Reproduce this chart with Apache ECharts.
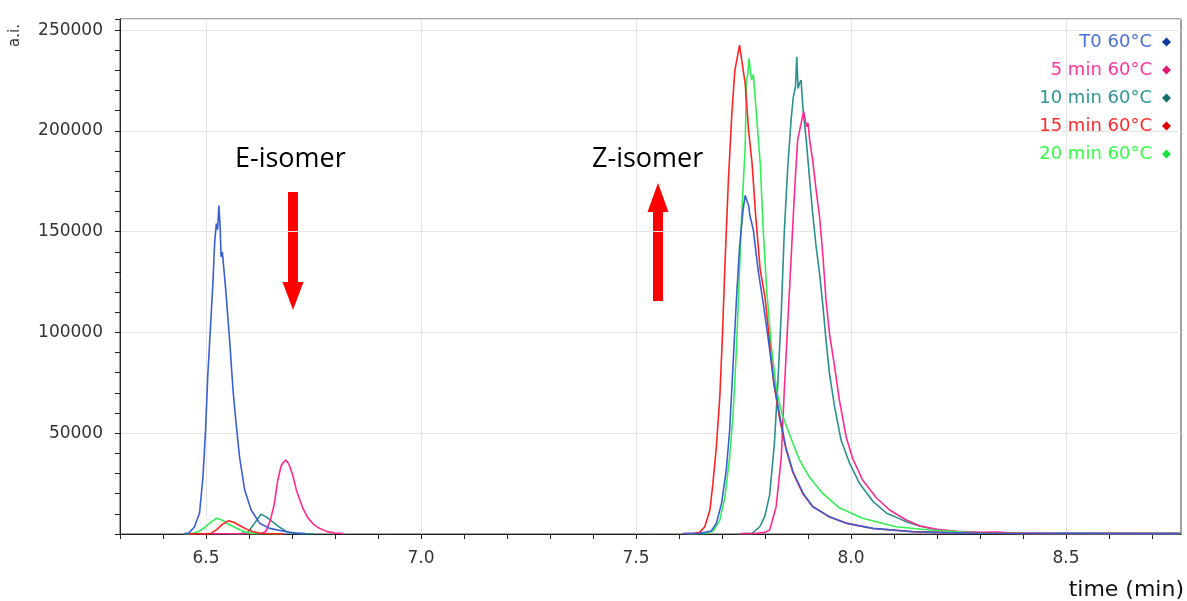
<!DOCTYPE html>
<html><head><meta charset="utf-8">
<script src="https://cdn.jsdelivr.net/npm/echarts@6/dist/echarts.min.js"></script>
<style>html,body{margin:0;padding:0;background:#fff}#c{width:1187px;height:601px}</style>
</head><body><div id="c"></div>
<script>
// ---- data (time in min, intensity in a.i.) ----
const seriesNames = ['T0 60°C', '5 min 60°C', '10 min 60°C', '15 min 60°C', '20 min 60°C'];

const t0E = [[6.45,300],[6.46,500],[6.473,3500],[6.485,10400],[6.493,28400],[6.499,51600],[6.504,78000],[6.51,101000],[6.516,124000],[6.52,144000],[6.524,154000],[6.527,151000],[6.53,163000],[6.533,152000],[6.535,137500],[6.538,140000],[6.546,121000],[6.555,96000],[6.563,71000],[6.57,55000],[6.578,38300],[6.59,21800],[6.605,11900],[6.625,5300],[6.648,2800],[6.687,1100],[6.71,500],[6.73,300]];
const t0Z = [[7.61,200],[7.65,300],[7.675,1500],[7.687,5300],[7.699,15200],[7.71,31700],[7.718,51600],[7.726,84700],[7.734,117700],[7.741,142500],[7.749,160700],[7.754,168000],[7.757,166000],[7.762,163000],[7.765,158000],[7.773,150800],[7.784,131000],[7.796,114400],[7.808,96200],[7.82,76400],[7.835,58000],[7.849,42500],[7.865,31000],[7.888,20500],[7.911,13500],[7.95,8600],[7.989,5300],[8.051,2800],[8.144,1100],[8.22,700],[8.3,400],[8.4,250],[8.5,300],[8.6,200],[8.7,250],[8.765,200]];

const m5E = [[6.45,100],[6.6,100],[6.63,300],[6.64,1500],[6.65,7000],[6.659,15000],[6.667,26800],[6.675,34000],[6.68,35500],[6.686,36700],[6.69,35500],[6.694,34000],[6.702,29000],[6.71,22000],[6.718,17000],[6.725,13000],[6.737,8000],[6.75,4800],[6.764,2800],[6.78,1300],[6.8,500],[6.82,200]];
const m5Z = [[7.74,100],[7.78,300],[7.8,800],[7.811,2000],[7.826,13500],[7.838,38300],[7.845,71400],[7.853,104500],[7.861,137500],[7.869,170600],[7.876,195400],[7.884,203700],[7.89,209500],[7.894,205000],[7.897,202000],[7.9,204000],[7.904,195400],[7.911,185500],[7.919,170600],[7.927,157400],[7.935,137500],[7.942,116100],[7.95,99500],[7.962,83000],[7.973,66500],[7.989,48000],[8.004,37500],[8.027,26800],[8.059,18000],[8.09,11900],[8.114,8800],[8.13,6800],[8.161,4000],[8.2,2300],[8.247,1300],[8.3,800],[8.338,1000],[8.377,450],[8.45,300],[8.55,250],[8.65,300],[8.765,250]];

const m10E = [[6.55,100],[6.58,200],[6.597,800],[6.605,3000],[6.615,6000],[6.628,9800],[6.64,8500],[6.655,6000],[6.67,3500],[6.685,1500],[6.694,600],[6.72,200],[6.75,100]];
const m10Z = [[7.74,100],[7.77,300],[7.788,3600],[7.8,9000],[7.811,19500],[7.822,45000],[7.83,75000],[7.838,110000],[7.845,150000],[7.853,182000],[7.861,206000],[7.866,216900],[7.871,222000],[7.874,236700],[7.877,221000],[7.881,224000],[7.884,225200],[7.888,212000],[7.896,195400],[7.904,175600],[7.911,159000],[7.919,142500],[7.927,129300],[7.935,112700],[7.942,96200],[7.95,79700],[7.962,63100],[7.977,46600],[7.997,35000],[8.02,25100],[8.051,16200],[8.083,10300],[8.114,7500],[8.13,6000],[8.161,3800],[8.2,2100],[8.247,1200],[8.3,700],[8.377,400],[8.45,250],[8.55,300],[8.65,200],[8.765,250]];

const m15E = [[6.46,100],[6.5,100],[6.512,400],[6.525,2200],[6.538,4800],[6.553,6600],[6.567,5600],[6.58,4000],[6.595,2300],[6.61,1100],[6.625,400],[6.65,150],[6.68,100]];
const m15Z = [[7.61,200],[7.635,300],[7.648,800],[7.66,3600],[7.672,11900],[7.679,25100],[7.687,43300],[7.695,68100],[7.701,97900],[7.707,134000],[7.715,175600],[7.723,208700],[7.73,230000],[7.737,238000],[7.741,242500],[7.746,235000],[7.754,223500],[7.762,200000],[7.77,184000],[7.778,159000],[7.789,131000],[7.8,117700],[7.808,101000],[7.82,75500],[7.834,57500],[7.849,42000],[7.865,30500],[7.888,20000],[7.911,13700],[7.95,8400],[7.989,5400],[8.051,2700],[8.144,1200],[8.22,700],[8.3,350],[8.4,300],[8.5,200],[8.6,250],[8.7,200],[8.765,250]];

const m20E = [[6.45,100],[6.47,300],[6.485,1500],[6.5,3800],[6.512,6000],[6.525,7800],[6.538,6800],[6.55,5200],[6.565,3500],[6.58,2000],[6.594,800],[6.61,300],[6.64,100],[6.68,100]];
const m20Z = [[7.62,100],[7.66,300],[7.68,1500],[7.695,6900],[7.707,18500],[7.718,38300],[7.726,59900],[7.734,92900],[7.74,126000],[7.746,159000],[7.754,192100],[7.757,225200],[7.76,228000],[7.763,236000],[7.766,230000],[7.769,225200],[7.773,228000],[7.78,208700],[7.789,183900],[7.796,150800],[7.804,121000],[7.815,92900],[7.827,71400],[7.839,60000],[7.849,54000],[7.865,45000],[7.881,36500],[7.904,28000],[7.935,20000],[7.973,13000],[8.027,7800],[8.105,3600],[8.183,2000],[8.3,500],[8.4,300],[8.5,250],[8.6,200],[8.7,250],[8.765,200]];

const xLabelTicks = [6.5, 7.0, 7.5, 8.0, 8.5];

// ---- styles ----
const lineColors = ['#3a5fd2', '#ff2a8e', '#2b8f8f', '#ff2222', '#33ee55'];
const legendTextColors = ['#4a6fd6', '#ff3399', '#2f9595', '#ff2a2a', '#33ff44'];
const legendIconColors = ['#0b3a9c', '#e01a70', '#136e6e', '#e00000', '#18e040'];

const E = [t0E, m5E, m10E, m15E, m20E];
const Z = [t0Z, m5Z, m10Z, m15Z, m20Z];

const drawOrder = [2, 1, 4, 3, 0];
const series = [{
  type: 'line', data: [], z: 1, silent: true,
  markLine: {
    silent: true, symbol: 'none', z: 1, animation: false,
    label: {show: false},
    lineStyle: {color: '#e4e4e4', width: 1, type: 'solid'},
    data: xLabelTicks.map(v => ({xAxis: v}))
  }
}];
drawOrder.forEach(i => {
  series.push({
    name: seriesNames[i], type: 'line', symbol: 'none', z: 3,
    connectNulls: false, animation: false,
    lineStyle: {color: lineColors[i], width: 1.6},
    itemStyle: {color: legendIconColors[i]},
    data: E[i].concat([[7.2, null]], Z[i])
  });
});

const isMultiple = (v, step) => Math.abs(v / step - Math.round(v / step)) < 1e-6;

const chart = echarts.init(document.getElementById('c'), null, {renderer: 'canvas'});
chart.setOption({
  backgroundColor: '#fff',
  animation: false,
  grid: {left: 120, top: 19, right: 6, bottom: 67, show: true, borderColor: '#444', borderWidth: 1, containLabel: false},
  xAxis: {
    type: 'value', min: 6.3, max: 8.7676, interval: 0.1,
    axisLine: {lineStyle: {color: '#222', width: 1}},
    axisTick: {length: 5, lineStyle: {color: '#222'}},
    axisLabel: {
      formatter: v => (isMultiple(v, 0.5) ? v.toFixed(1) : ''),
      fontFamily: 'DejaVu Sans', fontSize: 17, color: '#333', margin: 16,
      showMaxLabel: false
    },
    splitLine: {show: false}
  },
  yAxis: [{
    type: 'value', min: 0, max: 255500, interval: 10000,
    axisLine: {show: true, lineStyle: {color: '#222', width: 1}},
    axisTick: {show: true, length: 5, lineStyle: {color: '#222'}},
    axisLabel: {show: false},
    splitLine: {show: false}
  }, {
    type: 'value', min: 0, max: 255500, interval: 50000, position: 'left',
    axisLine: {show: false}, axisTick: {show: false},
    axisLabel: {
      formatter: v => (v > 0 && isMultiple(v, 50000) ? String(v) : ''),
      fontFamily: 'DejaVu Sans', fontSize: 17, color: '#333', margin: 17,
      showMaxLabel: false
    },
    splitLine: {show: true, lineStyle: {color: '#e4e4e4', width: 1}}
  }],
  legend: {
    orient: 'vertical', right: 11, top: 28, align: 'right',
    itemWidth: 9, itemHeight: 9, itemGap: 10, icon: 'diamond',
    selectedMode: false,
    textStyle: {fontFamily: 'DejaVu Sans', fontSize: 18, padding: [0, 5, 0, 0]},
    data: seriesNames.map((n, i) => ({name: n, textStyle: {color: legendTextColors[i]}, itemStyle: {color: legendIconColors[i]}}))
  },
  graphic: [
    {type: 'text', left: 235, top: 146, style: {text: 'E-isomer', font: '27px "Open Sans"', fill: '#000'}},
    {type: 'text', left: 592, top: 146, style: {text: 'Z-isomer', font: '27px "Open Sans"', fill: '#000'}},
    {type: 'polygon', shape: {points: [[288,192],[298,192],[298,282],[303.5,282],[293,310],[282.5,282],[288,282]]}, style: {fill: '#ff0000'}},
    {type: 'polygon', shape: {points: [[653,301],[663,301],[663,212],[668.5,212],[658,183],[647.5,212],[653,212]]}, style: {fill: '#ff0000'}},
    {type: 'text', x: 8, y: 47, rotation: Math.PI / 2, style: {text: 'a.i.', font: '15px "DejaVu Sans"', fill: '#333', align: 'left', verticalAlign: 'top'}},
    {type: 'text', right: 3, top: 579, style: {text: 'time (min)', font: '22px "DejaVu Sans"', fill: '#111'}}
  ],
  series: series
});
</script>
</body></html>
